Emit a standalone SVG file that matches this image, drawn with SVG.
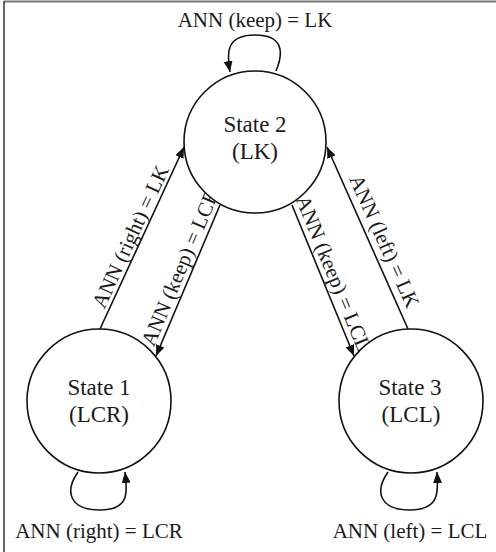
<svg xmlns="http://www.w3.org/2000/svg" width="496" height="552" viewBox="0 0 496 552">
<style>
text{font-family:"Liberation Serif","Times New Roman",serif;fill:#1a1a1a;}
.lbl{font-size:21px;text-anchor:middle;}
.st{font-size:23px;text-anchor:middle;}
.node{fill:#fff;stroke:#111;stroke-width:1.6;}
.edge{fill:none;stroke:#111;stroke-width:1.6;marker-end:url(#arr);}
</style>
<defs>
<marker id="arr" markerUnits="userSpaceOnUse" markerWidth="12" markerHeight="10" refX="11" refY="4.5" orient="auto">
<path d="M0,0 L11,4.5 L0,9 z" fill="#111"/>
</marker>
</defs>
<rect x="0" y="0" width="496" height="552" fill="#fff"/>
<line x1="4" y1="1.5" x2="496" y2="1.5" stroke="#777" stroke-width="2"/>
<line x1="4" y1="1" x2="4" y2="552" stroke="#333" stroke-width="1.5"/>

<g id="connectors">
<path class="edge" d="M276,71 C284,52 283,35 255,35 C228,35 226,50 230,72"/>
<path class="edge" d="M100,329 L184,147"/>
<path class="edge" d="M220,205 L156,356"/>
<path class="edge" d="M292,205 L354,356"/>
<path class="edge" d="M408,329 L327,147"/>
<path class="edge" d="M78,472 C64,492 70,510 100,510 C131,510 127,490 125,472"/>
<path class="edge" d="M388,472 C374,492 380,510 410,510 C441,510 438,490 437,472"/>
<text class="lbl" x="255" y="27">ANN (keep) = LK</text>
<text class="lbl" transform="translate(136.8,239.6) rotate(-65.2)">ANN (right) = LK</text>
<text class="lbl" transform="translate(186.6,270.3) rotate(-67)">ANN (keep) = LCR</text>
<text class="lbl" transform="translate(327,276) rotate(67.7)">ANN (keep) = LCL</text>
<text class="lbl" transform="translate(378,244) rotate(66)">ANN (left) = LK</text>
<text class="lbl" x="99" y="538">ANN (right) = LCR</text>
<text class="lbl" x="410" y="538">ANN (left) = LCL</text>
</g>

<g id="state2">
<circle class="node" cx="255" cy="142" r="71"/>
<text class="st" x="255" y="132">State 2</text>
<text class="st" x="255" y="159">(LK)</text>
</g>
<g id="state1">
<circle class="node" cx="99" cy="401" r="72"/>
<text class="st" x="99" y="395">State 1</text>
<text class="st" x="99" y="422">(LCR)</text>
</g>
<g id="state3">
<circle class="node" cx="411" cy="401" r="72"/>
<text class="st" x="410" y="395">State 3</text>
<text class="st" x="411" y="422">(LCL)</text>
</g>
</svg>
